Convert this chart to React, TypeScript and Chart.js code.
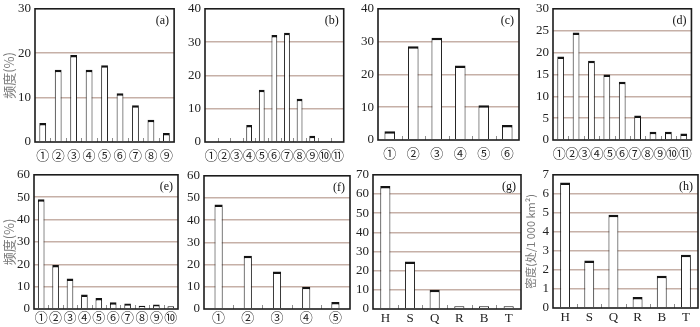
import React, { useEffect, useRef } from 'react';
import { Chart, registerables } from 'chart.js';
Chart.register(...registerables);

// ---------- data ----------
const aLabels = ['①', '②', '③', '④', '⑤', '⑥', '⑦', '⑧', '⑨'];
const aValues = [4.3, 16.3, 19.6, 16.3, 17.3, 11.0, 8.3, 5.0, 2.0];

const bLabels = ['①', '②', '③', '④', '⑤', '⑥', '⑦', '⑧', '⑨', '⑩', '⑪'];
const bValues = [0, 0, 0, 5.1, 15.7, 32.1, 32.8, 13.0, 1.9, 0, 0];

const cLabels = ['①', '②', '③', '④', '⑤', '⑥'];
const cValues = [2.7, 28.6, 31.2, 22.7, 10.6, 4.6];

const dLabels = ['①', '②', '③', '④', '⑤', '⑥', '⑦', '⑧', '⑨', '⑩', '⑪'];
const dBarCats = ['1', '2', '3', '4', '5', '6', '7', '8', '9'];
const dValues = [19.1, 24.6, 18.1, 15.0, 13.3, 5.6, 1.9, 1.9, 1.5];

const eLabels = ['①', '②', '③', '④', '⑤', '⑥', '⑦', '⑧', '⑨', '⑩'];
const eValues = [49.1, 19.7, 13.6, 6.5, 4.9, 3.0, 2.5, 1.4, 2.0, 1.2];

const fLabels = ['①', '②', '③', '④', '⑤'];
const fValues = [47.1, 24.0, 16.9, 10.0, 3.2];

const gLabels = ['H', 'S', 'Q', 'R', 'B', 'T'];
const gValues = [64.1, 24.8, 10.1, 1.4, 1.4, 1.4];

const hLabels = ['H', 'S', 'Q', 'R', 'B', 'T'];
const hValues = [6.6, 2.5, 4.9, 0.58, 1.7, 2.8];

const freqTitle = '频度(%)';
const densTitle = '密度(处/1 000 km²)';

// ---------- layout ----------
type Panel = {
  letter: string;
  labels: string[];
  barCats?: string[];
  values: number[];
  yMax: number;
  yStep: number;
  box: { l: number; t: number; r: number; b: number };
  canvasLeft: number;
  title?: string;
  barPct: number;
  bottomRow: boolean;
};

const panels: Panel[] = [
  { letter: '(a)', labels: aLabels, values: aValues, yMax: 30, yStep: 10, box: { l: 35, t: 5, r: 178, b: 142 }, canvasLeft: 0, title: freqTitle, barPct: 0.44, bottomRow: false },
  { letter: '(b)', labels: bLabels, values: bValues, yMax: 40, yStep: 10, box: { l: 205, t: 5, r: 349, b: 142 }, canvasLeft: 180, barPct: 0.46, bottomRow: false },
  { letter: '(c)', labels: cLabels, values: cValues, yMax: 40, yStep: 10, box: { l: 378, t: 5, r: 519, b: 140 }, canvasLeft: 352, barPct: 0.45, bottomRow: false },
  { letter: '(d)', labels: dLabels, barCats: dBarCats, values: dValues, yMax: 30, yStep: 5, box: { l: 553, t: 5, r: 697, b: 140 }, canvasLeft: 527, barPct: 0.44, bottomRow: false },
  { letter: '(e)', labels: eLabels, values: eValues, yMax: 60, yStep: 10, box: { l: 34, t: 171, r: 178, b: 309 }, canvasLeft: 0, title: freqTitle, barPct: 0.46, bottomRow: true },
  { letter: '(f)', labels: fLabels, values: fValues, yMax: 60, yStep: 10, box: { l: 204, t: 172, r: 350, b: 309 }, canvasLeft: 180, barPct: 0.28, bottomRow: true },
  { letter: '(g)', labels: gLabels, values: gValues, yMax: 70, yStep: 10, box: { l: 373, t: 171, r: 521, b: 309 }, canvasLeft: 352, barPct: 0.41, bottomRow: true },
  { letter: '(h)', labels: hLabels, values: hValues, yMax: 7, yStep: 1, box: { l: 553, t: 171, r: 698, b: 308 }, canvasLeft: 523, title: densTitle, barPct: 0.41, bottomRow: true },
];

const PAD_TOP = 8;
const PAD_RIGHT = 2;
const SERIF = '"Liberation Serif", "Times New Roman", serif';
const CIRC_FONT = '"Liberation Serif", "Noto Sans CJK SC", serif';

const decorPlugin = {
  id: 'panelDecor',
  afterDatasetsDraw(chart: any, _args: any, opts: any) {
    const { ctx, chartArea: ca } = chart;
    const xs = chart.scales.x;
    const n = chart.data.labels.length;
    ctx.save();
    ctx.strokeStyle = '#8c8c8c';
    ctx.lineWidth = 1;
    for (let i = 1; i < n; i++) {
      const px = Math.round((xs.getPixelForValue(i - 1) + xs.getPixelForValue(i)) / 2) + 0.5;
      ctx.beginPath();
      ctx.moveTo(px, ca.bottom);
      ctx.lineTo(px, ca.bottom - 4);
      ctx.stroke();
    }
    ctx.strokeStyle = '#1c1c1c';
    ctx.lineWidth = 1.6;
    ctx.strokeRect(ca.left, ca.top, ca.right - ca.left, ca.bottom - ca.top);
    ctx.fillStyle = '#111';
    ctx.font = '12px ' + SERIF;
    ctx.textAlign = 'right';
    ctx.textBaseline = 'middle';
    ctx.fillText(opts.letter, ca.right - 5, ca.top + 12);
    ctx.restore();
  },
};

function canvasGeom(p: Panel) {
  const top = p.box.t - PAD_TOP;
  const xH = p.bottomRow ? 327 - p.box.b : 22;
  const height = p.box.b + xH - top;
  const width = p.box.r + PAD_RIGHT - p.canvasLeft;
  return { top, height, width, xH };
}

export default function App() {
  const refs = useRef<(HTMLCanvasElement | null)[]>([]);

  useEffect(() => {
    const charts: Chart[] = [];
    panels.forEach((p, idx) => {
      const cv = refs.current[idx];
      if (!cv) return;
      const g = canvasGeom(p);
      const yW = p.box.l - p.canvasLeft;
      const isCirc = p.labels[0] === '①';
      const tickFont = { family: isCirc ? CIRC_FONT : SERIF, size: 13 };
      const xPad = p.bottomRow ? 2 : 7;
      const scales: any = {
        y: {
          min: 0,
          max: p.yMax,
          ticks: {
            stepSize: p.yStep,
            color: '#222',
            font: { family: SERIF, size: 13 },
            padding: 4,
          },
          grid: {
            drawTicks: false,
            lineWidth: 1.5,
            color: (c: any) =>
              c.tick && (c.tick.value === 0 || c.tick.value === p.yMax) ? 'rgba(0,0,0,0)' : '#c6b0a7',
          },
          border: { display: false },
          title: p.title
            ? {
                display: true,
                text: p.title,
                color: '#7a7a7a',
                font: { family: '"Noto Sans CJK SC", sans-serif', size: p.title === densTitle ? 11 : 13 },
                padding: { top: 1, bottom: 0 },
              }
            : { display: false },
          afterFit: (s: any) => {
            s.width = yW;
          },
        },
      };
      if (p.barCats) {
        scales.x = {
          type: 'category',
          offset: true,
          ticks: { display: false },
          grid: { display: false },
          border: { display: false },
          afterFit: (s: any) => {
            s.height = 0;
          },
        };
        scales.x2 = {
          type: 'category',
          position: 'bottom',
          labels: p.labels,
          offset: true,
          ticks: { color: '#222', font: tickFont, padding: xPad, maxRotation: 0, autoSkip: false },
          grid: { display: false, drawTicks: false },
          border: { display: false },
          afterFit: (s: any) => {
            s.height = g.xH;
          },
        };
      } else {
        scales.x = {
          type: 'category',
          offset: true,
          ticks: { color: '#222', font: tickFont, padding: xPad, maxRotation: 0, autoSkip: false },
          grid: { display: false, drawTicks: false },
          border: { display: false },
          afterFit: (s: any) => {
            s.height = g.xH;
          },
        };
      }
      const chart = new Chart(cv, {
        type: 'bar',
        data: {
          labels: p.barCats ? p.barCats : p.labels,
          datasets: [
            {
              data: p.values,
              backgroundColor: '#ffffff',
              borderColor: '#141414',
              borderWidth: { top: 2.5, left: 1, right: 1, bottom: 0 } as any,
              borderSkipped: 'bottom',
              barPercentage: p.barPct,
              categoryPercentage: 1,
              xAxisID: 'x',
            },
          ],
        },
        options: {
          animation: false,
          responsive: false,
          devicePixelRatio: 1,
          layout: { padding: { top: PAD_TOP, right: PAD_RIGHT, left: 0, bottom: 0 } },
          plugins: {
            legend: { display: false },
            tooltip: { enabled: false },
            panelDecor: { letter: p.letter },
          } as any,
          scales,
        },
        plugins: [decorPlugin],
      });
      charts.push(chart);
    });
    return () => charts.forEach((c) => c.destroy());
  }, []);

  return (
    <div style={{ position: 'absolute', left: 0, top: 0, width: 700, height: 327, background: '#fff', overflow: 'hidden' }}>
      {panels.map((p, i) => {
        const g = canvasGeom(p);
        return (
          <canvas
            key={p.letter}
            ref={(el) => {
              refs.current[i] = el;
            }}
            width={g.width}
            height={g.height}
            style={{ position: 'absolute', left: p.canvasLeft, top: g.top, width: g.width, height: g.height }}
          />
        );
      })}
    </div>
  );
}
